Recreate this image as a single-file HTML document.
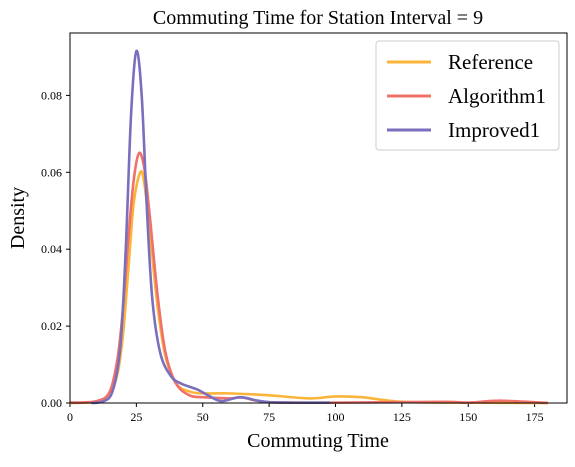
<!DOCTYPE html>
<html><head><meta charset="utf-8"><style>
body{margin:0;background:#fff}
svg{font-family:"Liberation Serif",serif}
</style></head><body>
<svg id="chart" width="575" height="462">
<text x="318" y="24" text-anchor="middle" font-size="20">Commuting Time for Station Interval = 9</text>
<g id="plot"></g>
<rect x="70" y="33" width="497" height="370" fill="none" stroke="#000" stroke-width="1"/>
<text x="318" y="447" text-anchor="middle" font-size="20">Commuting Time</text>
<text transform="translate(24,218) rotate(-90)" text-anchor="middle" font-size="20">Density</text>
<g>
<rect x="376" y="41" width="183" height="109" rx="3" fill="#fff" stroke="#ccc"/>
<line x1="387" y1="62" x2="431" y2="62" stroke="#fbb43a" stroke-width="3"/>
<text x="448" y="69" font-size="21">Reference</text>
<line x1="387" y1="96" x2="431" y2="96" stroke="#f0706a" stroke-width="3"/>
<text x="448" y="103" font-size="21">Algorithm1</text>
<line x1="387" y1="130" x2="431" y2="130" stroke="#7a6fbd" stroke-width="3"/>
<text x="448" y="137" font-size="21">Improved1</text>
</g>
</svg>
<script>
const xTicks=[0,25,50,75,100,125,150,175];
const yTicks=[0.00,0.02,0.04,0.06,0.08];
const yTickLabels=["0.00","0.02","0.04","0.06","0.08"];
const refX=[0,10,15,18,20,22,24,26.5,28,30,33,36,40,45,50,60,75,90,100,110,125,150,180];
const refY=[0,0.0003,0.002,0.008,0.018,0.035,0.052,0.060,0.057,0.045,0.025,0.012,0.005,0.003,0.0025,0.0025,0.002,0.0012,0.0017,0.0015,0.0003,0.0001,0];
const algX=[0,10,15,18,20,22,24,26,28,30,33,36,40,45,50,60,65,75,100,140,150,162,180];
const algY=[0.0001,0.0005,0.003,0.012,0.025,0.043,0.058,0.065,0.061,0.049,0.028,0.013,0.005,0.002,0.0015,0.0012,0.0014,0.0002,0.0001,0.0003,0.0001,0.0006,0];
const impX=[8,12,16,19,21,23,25,27,29,31,34,38,42,48,52,57,64,70,75,85,98];
const impY=[0,0.0003,0.003,0.015,0.04,0.075,0.0915,0.08,0.05,0.027,0.013,0.007,0.005,0.0035,0.002,0.0005,0.0015,0.0007,0.0002,0.0001,0.0001];
const X0=70,X1=567,Y0=403,Y1=33;
const xs=v=>X0+(v+2)*(532-70)/176*1+0; // placeholder replaced below
function sx(v){return 70+v*2.655;}
function sy(v){return 403-v*3845;}
const NS='http://www.w3.org/2000/svg';
const plot=document.getElementById('plot');
xTicks.forEach(t=>{
 const l=document.createElementNS(NS,'line');
 l.setAttribute('x1',sx(t));l.setAttribute('x2',sx(t));l.setAttribute('y1',403);l.setAttribute('y2',407);l.setAttribute('stroke','#000');
 
 
 plot.appendChild(l);
 const tx=document.createElementNS(NS,'text');
 tx.setAttribute('x',sx(t));tx.setAttribute('y',421);tx.setAttribute('text-anchor','middle');tx.setAttribute('font-size','12');tx.textContent=t;
 
 
 plot.appendChild(tx);
});
yTicks.forEach((t,i)=>{
 const l=document.createElementNS(NS,'line');
 l.setAttribute('x1',66);l.setAttribute('x2',70);l.setAttribute('y1',sy(t));l.setAttribute('y2',sy(t));l.setAttribute('stroke','#000');
 
 
 plot.appendChild(l);
 const tx=document.createElementNS(NS,'text');
 tx.setAttribute('x',62);tx.setAttribute('y',sy(t)+4);tx.setAttribute('text-anchor','end');tx.setAttribute('font-size','12');tx.textContent=yTickLabels[i];
 
 
 plot.appendChild(tx);
});
function pathFor(xa,ya){
 const p=xa.map((x,i)=>[sx(x),sy(ya[i])]);
 let d='M'+p[0][0]+','+p[0][1];
 for(let i=0;i<p.length-1;i++){
  const p0=p[Math.max(0,i-1)],p1=p[i],p2=p[i+1],p3=p[Math.min(p.length-1,i+2)];
  const c1=[p1[0]+(p2[0]-p0[0])/6,p1[1]+(p2[1]-p0[1])/6];
  const c2=[p2[0]-(p3[0]-p1[0])/6,p2[1]-(p3[1]-p1[1])/6];
  d+=' C'+c1[0]+','+Math.min(403,c1[1])+' '+c2[0]+','+Math.min(403,c2[1])+' '+p2[0]+','+p2[1];
 }
 return d;
}
[[refX,refY,'#fbb43a','series-reference'],[algX,algY,'#f0706a','series-algorithm1'],[impX,impY,'#7a6fbd','series-improved1']].forEach(s=>{
 const pa=document.createElementNS(NS,'path');
 pa.setAttribute('d',pathFor(s[0],s[1]));
 pa.setAttribute('fill','none');pa.setAttribute('stroke',s[2]);pa.setAttribute('stroke-width','2.6');pa.setAttribute('stroke-linejoin','round');
 
 
 plot.appendChild(pa);
});
</script>
</body></html>
